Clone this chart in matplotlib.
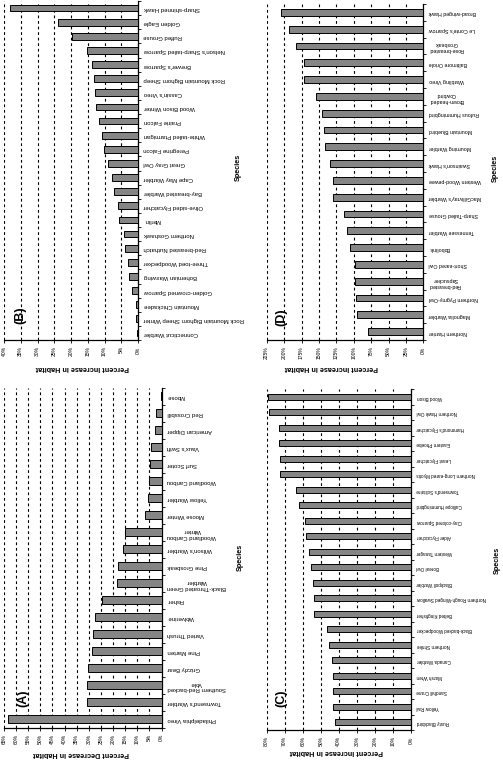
import numpy as np
import matplotlib
matplotlib.use("Agg")
import matplotlib.pyplot as plt
from matplotlib.ticker import FixedLocator

plt.rcParams['font.family'] = ['Liberation Sans', 'DejaVu Sans']

W, H = 503, 763
DPI = 100

# ---------------- data (top-to-bottom order as drawn) ----------------
species_a = ["Moose", "Red Crossbill", "American Dipper", "Vaux's Swift", "Surf Scoter",
             "Woodland Caribou", "Yellow Warbler", "Moose Winter", "Woodland Caribou\nWinter",
             "Wilson's Warbler", "Pine Grosbeak", "Black-Throated Green\nWarbler", "Fisher",
             "Wolverine", "Varied Thrush", "Pine Marten", "Grizzly Bear",
             "Southern Red-backed\nVole", "Townsend's Warbler", "Philadelphia Vireo"]
decrease_a = [0.3, 2.3, 2.6, 4.4, 4.8, 5.1, 5.5, 6.9, 15.1, 15.9, 17.9, 18.3, 24.6,
              27.5, 28.2, 28.6, 30.4, 30.6, 30.6, 63.2]

species_b = ["Sharp-shinned Hawk", "Golden Eagle", "Ruffed Grouse", "Nelson's Sharp-tailed Sparrow",
             "Brewer's Sparrow", "Rock Mountain Bighorn Sheep", "Cassin's Vireo", "Wood Bison Winter",
             "Prairie Falcon", "White-tailed Ptarmigan", "Peregrine Falcon", "Great Gray Owl",
             "Cape May Warbler", "Bay-breasted Warbler", "Olive-sided Flycatcher", "Merlin",
             "Northern Goshawk", "Red-breasted Nuthatch", "Three-toed Woodpecker", "Bohemian Waxwing",
             "Golden-crowned Sparrow", "Mountain Chickadee", "Rock Mountain Bighorn Sheep Winter",
             "Connecticut Warbler"]
increase_b = [38.2, 23.8, 19.6, 15.1, 13.8, 13.2, 12.8, 12.4, 11.6, 10.7, 10.1, 9.0,
              7.8, 7.1, 6.1, 5.7, 4.3, 3.9, 3.1, 2.6, 1.9, 0.6, 0.5, 0.2]

species_c = ["Wood Bison", "Northern Hawk Owl", "Hammond's Flycatcher", "Eastern Phoebe",
             "Least Flycatcher", "Northern Long-eared Myotis", "Townsend's Solitaire",
             "Calliope Hummingbird", "Clay-colored Sparrow", "Alder Flycatcher", "Western Tanager",
             "Boreal Owl", "Blackpoll Warbler", "Northern Rough-Winged Swallow", "Belted Kingfisher",
             "Black-backed Woodpecker", "Northern Shrike", "Canada Warbler", "Marsh Wren",
             "Sandhill Crane", "Yellow Rail", "Rusty Blackbird"]
increase_c = [79.1, 78.6, 73.4, 73.0, 72.8, 72.6, 64.0, 61.9, 58.8, 58.2, 56.6, 55.3,
              54.2, 53.8, 53.6, 46.4, 45.5, 44.0, 43.4, 43.4, 43.4, 42.3]

species_d = ["Broad-winged Hawk", "Le Conte's Sparrow", "Rose-breasted\nGrosbeak", "Baltimore Oriole",
             "Warbling Vireo", "Brown-headed\nCowbird", "Rufous Hummingbird", "Mountain Bluebird",
             "Mourning Warbler", "Swainson's Hawk", "Western Wood-pewee", "MacGillivray's Warbler",
             "Sharp-Tailed Grouse", "Tennessee Warbler", "Bobolink", "Short-eared Owl",
             "Red-breasted\nSapsucker", "Northern Pygmy-Owl", "Magnolia Warbler", "Northern Harrier"]
increase_d = [204.8, 192.3, 182.8, 171.3, 171.3, 153.6, 145.0, 143.1, 140.7, 134.4, 129.7,
              129.2, 113.4, 109.6, 105.3, 98.6, 97.6, 97.1, 95.2, 78.9]

ticks_a = list(range(0, 70, 5))
ticks_b = list(range(0, 45, 5))
ticks_c = list(range(0, 90, 10))
ticks_d = [0, 25, 50, 75, 100, 125, 150, 175, 200, 225]

fig = plt.figure(figsize=(W / DPI, H / DPI), dpi=DPI)


def add_panel(x0, x1, ytop, ybot, cats, vals, ticks, tick_fmt, cat_fs, tick_fs, bar_h):
    ax = fig.add_axes([x0 / W, 1 - ybot / H, (x1 - x0) / W, (ybot - ytop) / H])
    n = len(cats)
    pos = np.arange(n)
    ax.barh(pos, vals, height=bar_h, color='#858585', edgecolor='black', linewidth=0.7, zorder=3)
    ax.set_ylim(n - 0.5, -0.5)
    ax.set_xlim(ticks[-1], 0)
    for s in ('left', 'top'):
        ax.spines[s].set_visible(False)
    ax.spines['right'].set_linewidth(0.9)
    ax.spines['bottom'].set_linewidth(0.9)
    ax.yaxis.tick_right()
    ax.set_yticks(pos)
    ax.set_yticklabels(cats, rotation=180, fontsize=cat_fs, multialignment='center')
    ax.yaxis.set_minor_locator(FixedLocator(np.arange(n + 1) - 0.5))
    ax.tick_params(axis='y', which='major', length=0, pad=4)
    ax.tick_params(axis='y', which='minor', length=2.5, width=0.6, right=True, left=False)
    ax.set_xticks(ticks)
    ax.set_xticklabels([tick_fmt % t for t in ticks], rotation=90, fontsize=tick_fs)
    ax.tick_params(axis='x', length=2.5, width=0.6, pad=2)
    ax.xaxis.grid(True, color='black', linestyle=(0, (2.5, 2.5)), linewidth=0.8, zorder=0)
    ax.set_axisbelow(True)
    ax.patch.set_alpha(0)
    return ax


add_panel(4, 161.5, 388, 727.5, species_a, decrease_a, ticks_a, '%d%%', 4.3, 3.6, 0.47)
add_panel(4, 138, 1, 340, species_b, increase_b, ticks_b, '%d%%', 4.3, 3.6, 0.47)
add_panel(266.7, 411, 389, 730, species_c, increase_c, ticks_c, '%d%%', 3.3, 3.6, 0.40)
add_panel(266.7, 423.3, 4, 340, species_d, increase_d, ticks_d, '%d%%', 3.8, 3.6, 0.40)

# axis titles (upside down), "Species", panel letters
title_fs = 5.2
fig.text(81 / W, 1 - 753 / H, "Percent Decrease in Habitat", rotation=180, ha='center', va='center',
         fontsize=title_fs, fontweight='bold')
fig.text(82 / W, 1 - 368 / H, "Percent Increase in Habitat", rotation=180, ha='center', va='center',
         fontsize=title_fs, fontweight='bold')
fig.text(331 / W, 1 - 368 / H, "Percent Increase in Habitat", rotation=180, ha='center', va='center',
         fontsize=title_fs, fontweight='bold')
fig.text(336 / W, 1 - 752 / H, "Percent Increase in Habitat", rotation=180, ha='center', va='center',
         fontsize=title_fs, fontweight='bold')

for (sx, sy) in [(240, 557), (238, 167), (497, 560), (495, 168)]:
    fig.text(sx / W, 1 - sy / H, "Species", rotation=90, ha='center', va='center',
             fontsize=title_fs, fontweight='bold')

for lab, (lx, ly) in [("(A)", (23, 698)), ("(B)", (20, 315)), ("(C)", (281, 698)), ("(D)", (281, 317))]:
    fig.text(lx / W, 1 - ly / H, lab, rotation=90, ha='center', va='center',
             fontsize=9, fontweight='bold')

fig.savefig("out.png", dpi=DPI, facecolor='white')
